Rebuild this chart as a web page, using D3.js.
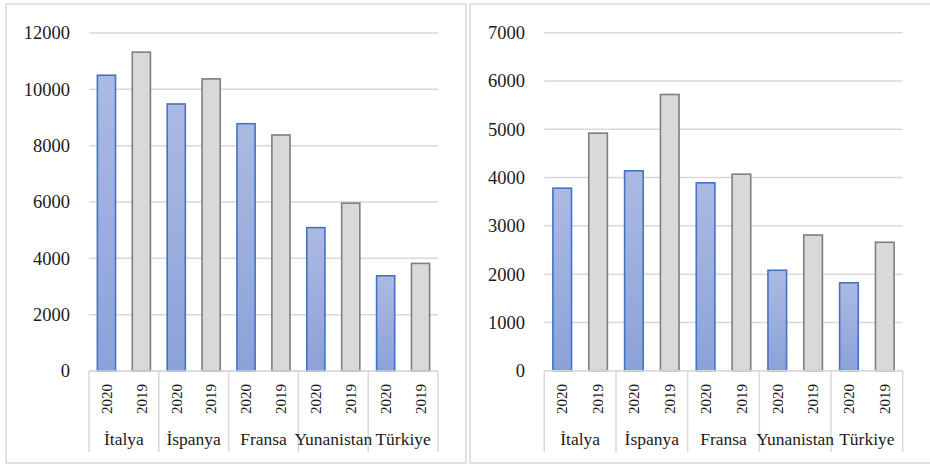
<!DOCTYPE html>
<html>
<head>
<meta charset="utf-8">
<style>
  body { margin: 0; background: #fff; }
  svg { display: block; }
</style>
</head>
<body>
<div id="chart"></div>
<script src="https://d3js.org/d3.v7.min.js"></script>
<script>
// data
const categories = ["İtalya", "İspanya", "Fransa", "Yunanistan", "Türkiye"];
const years = ["2020", "2019"];
const left2020 = [10500, 9480, 8780, 5090, 3380];
const left2019 = [11320, 10370, 8380, 5960, 3820];
const right2020 = [3780, 4140, 3890, 2080, 1820];
const right2019 = [4920, 5720, 4070, 2810, 2660];
const leftTicks = [0, 2000, 4000, 6000, 8000, 10000, 12000];
const rightTicks = [0, 1000, 2000, 3000, 4000, 5000, 6000, 7000];

const W = 930, H = 465;
const FONT = "Liberation Serif";
const svg = d3.select("#chart").append("svg")
  .attr("width", W).attr("height", H)
  .attr("font-family", FONT);

const defs = svg.append("defs");
const grad = defs.append("linearGradient")
  .attr("id", "blueGrad").attr("x1", 0).attr("y1", 0).attr("x2", 0).attr("y2", 1);
grad.append("stop").attr("offset", "0%").attr("stop-color", "#abbae2");
grad.append("stop").attr("offset", "100%").attr("stop-color", "#8ba2d9");

const gridColor = "#d9d9d9";

function drawChart(cfg) {
  const g = svg.append("g");

  // panel border
  g.append("rect")
    .attr("x", cfg.px).attr("y", cfg.py)
    .attr("width", cfg.pw).attr("height", cfg.ph)
    .attr("fill", "#fff").attr("stroke", gridColor).attr("stroke-width", 1.5);

  const y = d3.scaleLinear()
    .domain([0, d3.max(cfg.ticks)])
    .range([cfg.bottom, cfg.top]);

  // gridlines + tick labels
  g.selectAll(".grid").data(cfg.ticks).enter().append("line")
    .attr("x1", cfg.left).attr("x2", cfg.right)
    .attr("y1", d => y(d)).attr("y2", d => y(d))
    .attr("stroke", gridColor).attr("stroke-width", 1.5);

  g.selectAll(".tick").data(cfg.ticks).enter().append("text")
    .attr("x", cfg.labelX).attr("y", d => y(d))
    .attr("dy", "0.35em")
    .attr("text-anchor", "end")
    .attr("font-family", FONT)
    .attr("font-size", 18.5)
    .attr("fill", "#1a1a1a")
    .text(d => d);

  const rows = [];
  categories.forEach((c, i) => {
    rows.push({ key: c + "|2020", cat: c, year: years[0], value: cfg.v2020[i] });
    rows.push({ key: c + "|2019", cat: c, year: years[1], value: cfg.v2019[i] });
  });

  const xGroup = d3.scaleBand().domain(categories).range([cfg.left, cfg.right]);
  const x = d3.scaleBand().domain(rows.map(d => d.key))
    .range([cfg.left, cfg.right]).paddingInner(0.48).paddingOuter(0.24);

  // bars
  g.selectAll(".bar").data(rows).enter().append("rect")
    .attr("x", d => x(d.key))
    .attr("y", d => y(d.value))
    .attr("width", x.bandwidth())
    .attr("height", d => y(0) - y(d.value))
    .attr("fill", d => d.year === "2020" ? "url(#blueGrad)" : "#d9d9d9")
    .attr("stroke", d => d.year === "2020" ? "#4472c4" : "#7f7f7f")
    .attr("stroke-width", 1.6);

  // category axis
  g.append("line")
    .attr("x1", cfg.left).attr("x2", cfg.right)
    .attr("y1", y(0)).attr("y2", y(0))
    .attr("stroke", gridColor).attr("stroke-width", 1.5);

  const bounds = categories.map(c => xGroup(c)).concat([cfg.right]);
  g.selectAll(".sep").data(bounds).enter().append("line")
    .attr("x1", d => d).attr("x2", d => d)
    .attr("y1", y(0)).attr("y2", 452)
    .attr("stroke", gridColor).attr("stroke-width", 1.5);

  g.selectAll(".year").data(rows).enter().append("text")
    .attr("transform", d => `translate(${x(d.key) + x.bandwidth() / 2},399) rotate(-90)`)
    .attr("text-anchor", "middle")
    .attr("dy", "0.35em")
    .attr("font-family", FONT)
    .attr("font-size", 15)
    .attr("fill", "#1a1a1a")
    .text(d => d.year);

  g.selectAll(".cat").data(categories).enter().append("text")
    .attr("x", d => xGroup(d) + xGroup.bandwidth() / 2)
    .attr("y", 445)
    .attr("text-anchor", "middle")
    .attr("font-family", FONT)
    .attr("font-size", 17.5)
    .attr("fill", "#1a1a1a")
    .text(d => d);
}

drawChart({
  px: 6, py: 4, pw: 460, ph: 459,
  left: 89, right: 438, top: 33, bottom: 371, labelX: 70,
  ticks: leftTicks, v2020: left2020, v2019: left2019
});

drawChart({
  px: 470, py: 4, pw: 470, ph: 459,
  left: 544.3, right: 902.7, top: 32.7, bottom: 370.7, labelX: 525,
  ticks: rightTicks, v2020: right2020, v2019: right2019
});
</script>
</body>
</html>
